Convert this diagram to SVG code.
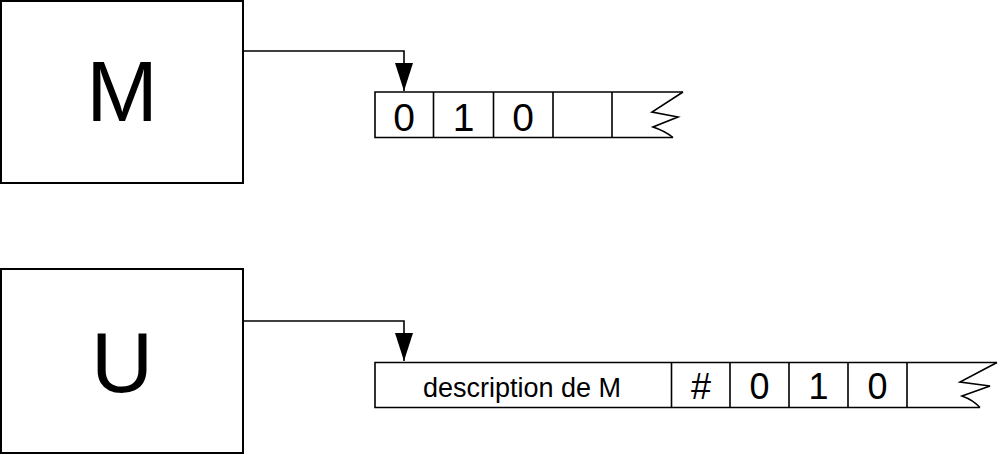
<svg xmlns="http://www.w3.org/2000/svg" width="1000" height="455" viewBox="0 0 1000 455">
<defs>
<style>
.box{fill:#fff;stroke:#000;stroke-width:2}
.ln{fill:none;stroke:#000;stroke-width:1.6}
.big{font-family:"Liberation Sans",Arial,sans-serif;font-size:86px;text-anchor:middle;fill:#000}
.dg{font-family:"Liberation Sans",Arial,sans-serif;text-anchor:middle;fill:#000}
</style>
<marker id="arr" markerWidth="28" markerHeight="18" refX="28" refY="9" orient="auto" markerUnits="userSpaceOnUse" viewBox="0 0 28 18">
<path d="M0,0 L28,9 L0,18 Z" fill="#000"/>
</marker>
</defs>
<rect width="1000" height="455" fill="#fff"/>
<g id="node-M">
<rect class="box" x="1" y="1" width="242" height="182"/>
<text class="big" x="122" y="121">M</text>
</g>
<g id="node-U">
<rect class="box" x="1" y="269" width="242" height="184"/>
<text class="big" x="122" y="392">U</text>
</g>
<g id="tape-M">
<path class="ln" d="M683,92 L375,92 L375,137.5 L673,137.5"/>
<path class="ln" d="M683,92 L652,112 L678,117 L653,127 Q665,131 673,137.5"/>
<path class="ln" d="M433.5,92 V137.5 M493.5,92 V137.5 M553,92 V137.5 M612,92 V137.5"/>
<text class="dg" font-size="39" x="404" y="130.5">0</text>
<text class="dg" font-size="39" x="463.5" y="130.5">1</text>
<text class="dg" font-size="39" x="523" y="130.5">0</text>
</g>
<g id="tape-U">
<path class="ln" d="M997,362.5 L375,362.5 L375,407.5 L980,407.5"/>
<path class="ln" d="M997,362.5 L960,382 L990,386 L962,396 Q973,400 980,407.5"/>
<path class="ln" d="M671.5,362.5 V407.5 M730,362.5 V407.5 M789,362.5 V407.5 M848,362.5 V407.5 M907,362.5 V407.5"/>
<text class="dg" font-size="27" x="522" y="397">description de M</text>
<text class="dg" font-size="36" x="701" y="399">#</text>
<text class="dg" font-size="36" x="759.5" y="399">0</text>
<text class="dg" font-size="36" x="818.5" y="399">1</text>
<text class="dg" font-size="36" x="877.5" y="399">0</text>
</g>
<g id="connectors">
<path class="ln" d="M243,51 H404 V91" marker-end="url(#arr)"/>
<path class="ln" d="M243,321 H404 V361" marker-end="url(#arr)"/>
</g>
</svg>
